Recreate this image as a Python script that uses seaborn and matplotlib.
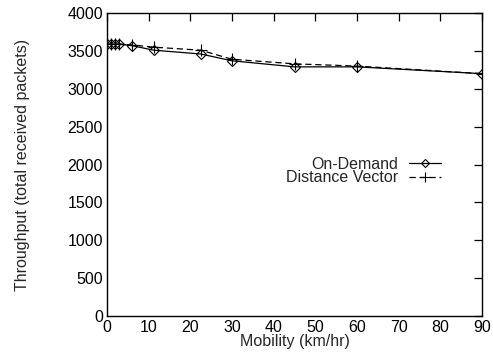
import matplotlib
matplotlib.use("Agg")
import matplotlib.pyplot as plt
import seaborn as sns
import pandas as pd

mobility = [0, 1, 2, 3, 6, 11.25, 22.5, 30, 45, 60, 90]
on_demand = [3590, 3590, 3590, 3590, 3570, 3510, 3460, 3370, 3290, 3290, 3200]
distance_vector = [3590, 3590, 3590, 3590, 3580, 3550, 3510, 3390, 3330, 3300, 3200]

x_ticks = [0, 10, 20, 30, 40, 50, 60, 70, 80, 90]
y_ticks = [0, 500, 1000, 1500, 2000, 2500, 3000, 3500, 4000]

sns.set_theme(style="white")
plt.rcParams['font.family'] = ['Liberation Sans', 'DejaVu Sans']
FS = 11.5

fig = plt.figure(figsize=(4.93, 3.64), dpi=100)
ax = fig.add_axes([0.217, 0.132, 0.761, 0.832])

df_od = pd.DataFrame({"x": mobility, "y": on_demand})
df_dv = pd.DataFrame({"x": mobility, "y": distance_vector})

sns.lineplot(data=df_od, x="x", y="y", ax=ax, color="black", lw=0.9,
             marker="D", markersize=5, markerfacecolor="none",
             markeredgecolor="black", markeredgewidth=0.8, label="On-Demand")
sns.lineplot(data=df_dv, x="x", y="y", ax=ax, color="black", lw=0.9,
             linestyle=(0, (5, 3)), marker="+", markersize=8,
             markeredgecolor="black", markeredgewidth=0.8,
             label="Distance Vector")

ax.set_xlim(0, 90)
ax.set_ylim(0, 4000)
ax.set_xticks(x_ticks)
ax.set_yticks(y_ticks)
ax.set_xlabel("Mobility (km/hr)", fontsize=FS, labelpad=-1)
ax.set_ylabel("Throughput (total received packets)", fontsize=FS, labelpad=27)
ax.tick_params(direction="in", length=6, width=0.9, top=True, right=True,
               labelsize=FS, pad=3, colors="black")
for s in ax.spines.values():
    s.set_linewidth(1.0)
    s.set_color("black")

leg = ax.legend(loc="center right", bbox_to_anchor=(0.891, 0.479),
                frameon=False, markerfirst=False, fontsize=FS,
                handlelength=2.0, handletextpad=0.7, labelspacing=-0.08,
                borderpad=0, borderaxespad=0, markerscale=0.85)

fig.savefig("out.png", dpi=100)
